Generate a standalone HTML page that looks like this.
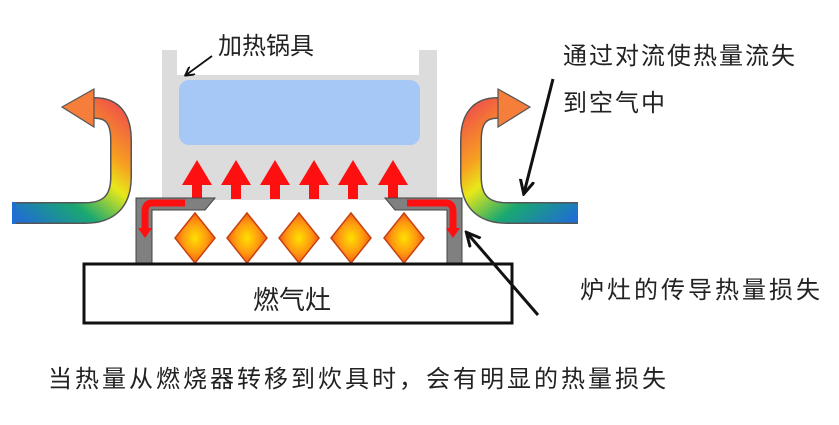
<!DOCTYPE html>
<html><head><meta charset="utf-8"><style>
html,body{margin:0;padding:0;background:#fff;}
svg{display:block;}
text{font-family:"Liberation Sans","Noto Sans CJK SC",sans-serif;fill:#222;}
</style></head><body>
<svg width="839" height="425" viewBox="0 0 839 425" xmlns="http://www.w3.org/2000/svg">
<defs>
<linearGradient id="gl" gradientUnits="userSpaceOnUse" x1="14" y1="215" x2="110" y2="95">
<stop offset="0" stop-color="#1f6fd0"/><stop offset="0.3" stop-color="#1aa870"/><stop offset="0.55" stop-color="#e8e81a"/><stop offset="0.7" stop-color="#f7a020"/><stop offset="1" stop-color="#f0504a"/>
</linearGradient>
<linearGradient id="gr" gradientUnits="userSpaceOnUse" x1="578" y1="215" x2="482" y2="95">
<stop offset="0" stop-color="#1f6fd0"/><stop offset="0.3" stop-color="#1aa870"/><stop offset="0.55" stop-color="#e8e81a"/><stop offset="0.7" stop-color="#f7a020"/><stop offset="1" stop-color="#f0504a"/>
</linearGradient>
<radialGradient id="fl"><stop offset="0" stop-color="#ffe000"/><stop offset="0.6" stop-color="#ff9a10"/><stop offset="1" stop-color="#f06010"/></radialGradient>
<marker id="ah" markerWidth="10" markerHeight="10" refX="8" refY="5" orient="auto" markerUnits="userSpaceOnUse"><path d="M0,0 L9,5 L0,10" fill="none" stroke="#111" stroke-width="2"/></marker>
<marker id="ah2" markerWidth="16" markerHeight="16" refX="13" refY="8" orient="auto" markerUnits="userSpaceOnUse"><path d="M0,1 L14,8 L0,15" fill="none" stroke="#111" stroke-width="3"/></marker>
</defs>
<rect x="162" y="50" width="15" height="150" fill="#dcdcdc"/>
<rect x="419" y="50" width="18" height="150" fill="#dcdcdc"/>
<rect x="162" y="75" width="275" height="125" fill="#dcdcdc"/>
<rect x="179" y="80" width="241" height="65" rx="10" fill="#a6c8f6"/>
<g fill="#ff1010">
<path id="ra" d="M197,160 L212,185 L202,185 L202,199 L192,199 L192,185 L182,185 Z"/>
<use href="#ra" x="39"/><use href="#ra" x="78"/><use href="#ra" x="117"/><use href="#ra" x="156"/><use href="#ra" x="196"/>
</g>
<path d="M136,198 L215,198 L205,210 L152,210 L152,263 L136,263 Z" fill="#808080" stroke="#444" stroke-width="1"/>
<path d="M462,198 L385,198 L395,210 L447,210 L447,263 L462,263 Z" fill="#808080" stroke="#444" stroke-width="1"/>
<path d="M185,203 L152,203 Q145,203 145,212 L145,230" fill="none" stroke="#ff1010" stroke-width="7"/>
<path d="M138,228 L152,228 L145,238 Z" fill="#ff1010"/>
<path d="M407,203 L446,203 Q453,203 453,212 L453,230" fill="none" stroke="#ff1010" stroke-width="7"/>
<path d="M446,228 L460,228 L453,238 Z" fill="#ff1010"/>
<g fill="url(#fl)" stroke="#c84010" stroke-width="1.5">
<path d="M195,213 L215,238 L195,263 L175,238 Z"/>
<path d="M247,213 L267,238 L247,263 L227,238 Z"/>
<path d="M299,213 L319,238 L299,263 L279,238 Z"/>
<path d="M351,213 L371,238 L351,263 L331,238 Z"/>
<path d="M404,213 L424,238 L404,263 L384,238 Z"/>
</g>
<rect x="84" y="264" width="428" height="59" fill="#fff" stroke="#111" stroke-width="3"/>
<text x="292" y="309" font-size="26" text-anchor="middle">燃气灶</text>
<path d="M14,213 L85,213 Q121,213 121,177 L121,140 Q121,108 95,108 L90,108" fill="none" stroke="#555" stroke-width="22"/>
<path d="M14,213 L85,213 Q121,213 121,177 L121,140 Q121,108 95,108 L90,108" fill="none" stroke="url(#gl)" stroke-width="19"/>
<path d="M94,89 L94,127 L62,107 Z" fill="#f57e3a" stroke="#555" stroke-width="1.2"/>
<rect x="12" y="202" width="4" height="22" fill="#1f6fd0"/>
<path d="M578,213 L507,213 Q471,213 471,177 L471,140 Q471,108 497,108 L502,108" fill="none" stroke="#555" stroke-width="22"/>
<path d="M578,213 L507,213 Q471,213 471,177 L471,140 Q471,108 497,108 L502,108" fill="none" stroke="url(#gr)" stroke-width="19"/>
<path d="M498,89 L498,127 L530,107 Z" fill="#f57e3a" stroke="#555" stroke-width="1.2"/>
<text x="218" y="54" font-size="24">加热锅具</text>
<line x1="212" y1="56" x2="186" y2="75" stroke="#111" stroke-width="1.8" marker-end="url(#ah)"/>
<text x="563" y="64" font-size="24" letter-spacing="2">通过对流使热量流失</text>
<text x="563" y="111" font-size="24" letter-spacing="2">到空气中</text>
<line x1="553" y1="79" x2="524" y2="193" stroke="#111" stroke-width="3" marker-end="url(#ah2)"/>
<text x="580" y="298" font-size="24" letter-spacing="3">炉灶的传导热量损失</text>
<line x1="538" y1="315" x2="467" y2="233" stroke="#111" stroke-width="3" marker-end="url(#ah2)"/>
<text x="48" y="387" font-size="24" letter-spacing="3">当热量从燃烧器转移到炊具时，会有明显的热量损失</text>
</svg>
</body></html>
